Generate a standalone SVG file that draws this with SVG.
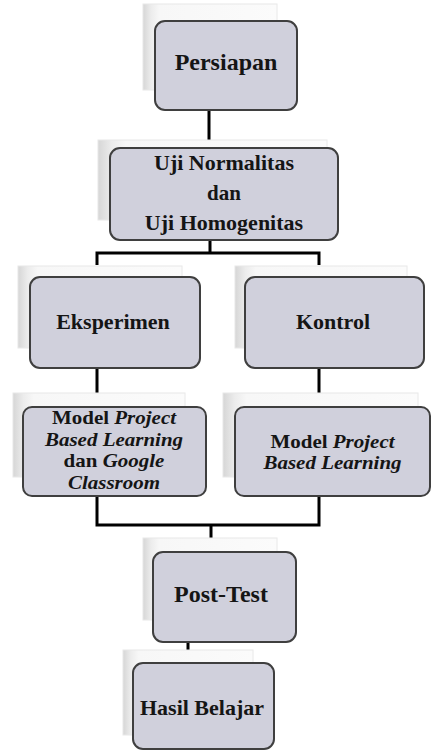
<svg xmlns="http://www.w3.org/2000/svg" width="431" height="752" viewBox="0 0 431 752">
<defs>
<linearGradient id="card" x1="0" y1="0" x2="1" y2="0">
<stop offset="0" stop-color="#d6d6d6"/>
<stop offset="0.06" stop-color="#ececec"/>
<stop offset="0.12" stop-color="#f7f7f7"/>
<stop offset="1" stop-color="#fbfbfb"/>
</linearGradient>
</defs>
<style>
.card{fill:url(#card);stroke:#e8e8e8;stroke-width:1}
.box{fill:#d0d0dc;stroke:#3f3f3f;stroke-width:2}
.t{font-weight:bold;font-size:22px;fill:#151515;text-anchor:middle}
.s{font-size:21px}
.l{font-size:24px}
.i{font-style:italic}
.c{fill:none;stroke:#000;stroke-width:3}
</style>
<rect width="431" height="752" fill="#fff"/>
<g id="connectors">
<path class="c" d="M209 110V148"/>
<path class="c" d="M210 240V253M97 265V253H319V265"/>
<path class="c" d="M97 368V393M319 368V393"/>
<path class="c" d="M97 496V525H319V496M211 525V540"/>
<path class="c" d="M188 642V653"/>
</g>
<g font-family="Liberation Serif, DejaVu Serif, serif">
<g id="persiapan">
<rect class="card" x="143" y="4" width="134" height="86"/>
<rect class="box" x="155" y="21" width="142" height="89" rx="10"/>
<text class="t l" x="226" y="70">Persiapan</text>
</g>
<g id="uji">
<rect class="card" x="98" y="140" width="229" height="80"/>
<rect class="box" x="110" y="148" width="228" height="92" rx="10"/>
<text class="t" x="224" y="170">Uji Normalitas</text>
<text class="t s" x="224" y="200">dan</text>
<text class="t" x="224" y="230">Uji Homogenitas</text>
</g>
<g id="eksperimen">
<rect class="card" x="18" y="266" width="164" height="82"/>
<rect class="box" x="30" y="277" width="170" height="91" rx="10"/>
<text class="t" x="113" y="329">Eksperimen</text>
</g>
<g id="kontrol">
<rect class="card" x="235" y="266" width="172" height="82"/>
<rect class="box" x="245" y="277" width="179" height="91" rx="10"/>
<text class="t" x="333" y="329">Kontrol</text>
</g>
<g id="model-pbl-gc">
<rect class="card" x="13" y="393" width="172" height="84"/>
<rect class="box" x="23" y="407" width="183" height="89" rx="9"/>
<text class="t s" transform="translate(114 424) scale(1 0.85)">Model <tspan class="i">Project</tspan></text>
<text class="t s i" transform="translate(114 445.5) scale(1 0.85)">Based Learning</text>
<text class="t s" transform="translate(114 467) scale(1 0.85)">dan <tspan class="i">Google</tspan></text>
<text class="t s i" transform="translate(114 488.5) scale(1 0.85)">Classroom</text>
</g>
<g id="model-pbl">
<rect class="card" x="223" y="393" width="195" height="84"/>
<rect class="box" x="235" y="407" width="195" height="89" rx="9"/>
<text class="t s" transform="translate(332.5 448) scale(1 0.85)">Model <tspan class="i">Project</tspan></text>
<text class="t s i" transform="translate(332.5 469) scale(1 0.85)">Based Learning</text>
</g>
<g id="post-test">
<rect class="card" x="143" y="538" width="134" height="82"/>
<rect class="box" x="153" y="552" width="143" height="90" rx="10"/>
<text class="t l" x="221" y="602">Post-Test</text>
</g>
<g id="hasil-belajar">
<rect class="card" x="123" y="650" width="130" height="85"/>
<rect class="box" x="133" y="663" width="141" height="86" rx="10"/>
<text class="t" x="202" y="715" font-size="21.5">Hasil Belajar</text>
</g>
</g>
</svg>
